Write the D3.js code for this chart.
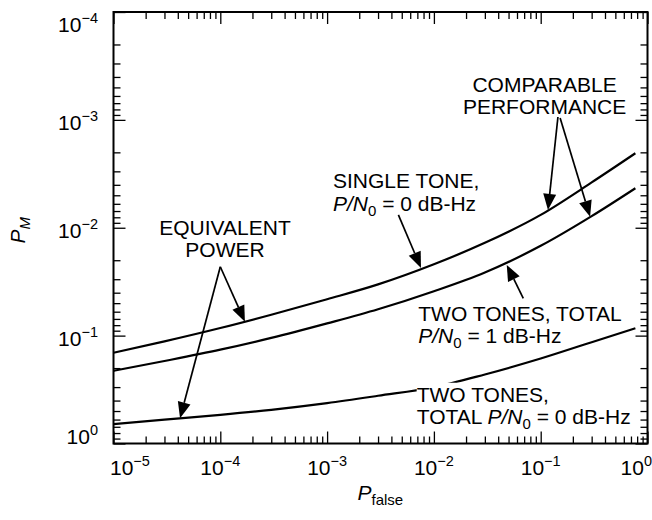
<!DOCTYPE html>
<html>
<head>
<meta charset="utf-8">
<script src="https://cdn.jsdelivr.net/npm/d3@7"></script>
<style>
  body { margin: 0; background: #fff; }
  svg { display: block; }
  text { font-family: "Liberation Sans", Arial, Helvetica, sans-serif; fill: #000; }
</style>
</head>
<body>
<svg id="chart" width="652" height="520"></svg>
<script>
// False-alarm probability grid shared by all three curves
const pFalse = [1e-5, 3e-5, 1e-4, 3e-4, 1e-3, 3e-3, 1e-2, 3e-2, 0.1, 0.3, 0.77];

// Miss probability P_M for each case
const singleTone0dB = [0.144, 0.113, 0.085, 0.064, 0.046, 0.0335, 0.0218, 0.0138, 0.0076, 0.0038, 0.00204];
const twoTones1dB   = [0.212, 0.172, 0.135, 0.105, 0.077, 0.057, 0.0388, 0.026, 0.0147, 0.0078, 0.0043];
const twoTones0dB   = [0.662, 0.601, 0.542, 0.487, 0.422, 0.361, 0.301, 0.229, 0.163, 0.115, 0.0853];

// Decade exponents used for the tick labels
const xTickExps = [-5, -4, -3, -2, -1, 0];
const yTickExps = [-4, -3, -2, -1, 0];

// Callout text, anchored in data coordinates (P_false, P_M)
const pn = v => [{t: "P/N", i: true}, {t: "0", sub: true}, {t: " = " + v + " dB-Hz"}];
const callouts = [
  {at: [0.1087, 5.48e-4], anchor: "middle", lines: [[{t: "COMPARABLE"}], [{t: "PERFORMANCE"}]]},
  {at: [1.135e-3, 4.3e-3], anchor: "start", lines: [[{t: "SINGLE TONE,"}], pn(0)]},
  {at: [1.107e-4, 0.01166], anchor: "middle", lines: [[{t: "EQUIVALENT"}], [{t: "POWER"}]]},
  {at: [7.14e-3, 0.0728], anchor: "start", lines: [[{t: "TWO TONES, TOTAL"}], pn(1)]},
  {at: [6.9e-3, 0.41], anchor: "start", mask: true, lines: [[{t: "TWO TONES,"}], [{t: "TOTAL "}].concat(pn(0))]}
];

// Pointer arrows: tail -> tip, in data coordinates
const arrows = [
  {from: [0.145, 9.4e-4],  to: [0.117, 0.00684]},
  {from: [0.152, 9.6e-4],  to: [0.29, 0.0079]},
  {from: [4.65e-3, 7.6e-3], to: [7.57e-3, 0.0236]},
  {from: [1e-4, 0.023],    to: [1.7e-4, 0.0743]},
  {from: [1e-4, 0.023],    to: [4.2e-5, 0.583]},
  {from: [0.0687, 0.0451], to: [0.0481, 0.0221]}
];

const W = 652, H = 520;
const plot = {left: 113.5, right: 647.5, top: 12, bottom: 443.5};
const svg = d3.select("#chart");

const x = d3.scaleLog().domain([1e-5, 1]).range([plot.left, plot.right]);
const y = d3.scaleLog().domain([1e-4, 1]).range([plot.top, plot.bottom]);

// Curves
const line = d3.line().x(d => x(d[0])).y(d => y(d[1])).curve(d3.curveMonotoneX);
[singleTone0dB, twoTones1dB, twoTones0dB].forEach(series => {
  svg.append("path")
    .datum(pFalse.map((p, i) => [p, series[i]]))
    .attr("d", line)
    .attr("fill", "none")
    .attr("stroke", "#000")
    .attr("stroke-width", 2.2);
});

// Callout labels
const FS = 21, SUB = 15, SUBDY = 5, LH = 22.5;
callouts.forEach(c => {
  const g = svg.append("g");
  const px = x(c.at[0]), py = y(c.at[1]);
  c.lines.forEach((segs, li) => {
    const t = g.append("text")
      .attr("x", px).attr("y", py + li * LH)
      .attr("text-anchor", c.anchor)
      .attr("font-size", FS);
    let shift = 0;
    segs.forEach(s => {
      const target = s.sub ? SUBDY : 0;
      const ts = t.append("tspan").text(s.t).attr("dy", target - shift);
      shift = target;
      if (s.i) ts.attr("font-style", "italic");
      if (s.sub) ts.attr("font-size", SUB);
    });
    if (c.mask && li === 0) {
      const b = t.node().getBBox();
      g.insert("rect", "text")
        .attr("x", b.x).attr("y", b.y)
        .attr("width", b.width).attr("height", b.height)
        .attr("fill", "#fff");
    }
  });
});

// Arrows with solid heads
const HEAD_L = 16, HEAD_W = 6.5;
arrows.forEach(a => {
  const x0 = x(a.from[0]), y0 = y(a.from[1]);
  const x1 = x(a.to[0]), y1 = y(a.to[1]);
  const dx = x1 - x0, dy = y1 - y0, len = Math.hypot(dx, dy);
  const ux = dx / len, uy = dy / len;
  const bx = x1 - ux * HEAD_L, by = y1 - uy * HEAD_L;
  svg.append("line")
    .attr("x1", x0).attr("y1", y0).attr("x2", bx).attr("y2", by)
    .attr("stroke", "#000").attr("stroke-width", 1.7);
  svg.append("polygon")
    .attr("points", [[x1, y1], [bx - uy * HEAD_W, by + ux * HEAD_W], [bx + uy * HEAD_W, by - ux * HEAD_W]].map(p => p.join(",")).join(" "))
    .attr("fill", "#000");
});

// Tick marks on all four sides, pointing inward
const majorX = xTickExps.map(e => Math.pow(10, e));
const majorY = yTickExps.map(e => Math.pow(10, e));
function minors(lo, hi) {
  const v = [];
  for (let e = lo; e < hi; e++) for (let k = 2; k <= 9; k++) v.push(k * Math.pow(10, e));
  return v;
}
const minorX = minors(-5, 0), minorY = minors(-4, 0);

function ticks(axis, transform, values, size) {
  const g = svg.append("g").attr("transform", transform)
    .call(axis.tickValues(values).tickSize(size).tickFormat(""));
  g.select(".domain").remove();
  g.selectAll("line").attr("stroke", "#000").attr("stroke-width", 1.3);
}
[[majorX, -12], [minorX, -7]].forEach(([v, s]) => {
  ticks(d3.axisBottom(x), `translate(0,${plot.bottom})`, v, s);
  ticks(d3.axisTop(x), `translate(0,${plot.top})`, v, s);
});
[[majorY, -12], [minorY, -7]].forEach(([v, s]) => {
  ticks(d3.axisLeft(y), `translate(${plot.left},0)`, v, s);
  ticks(d3.axisRight(y), `translate(${plot.right},0)`, v, s);
});

// Frame
svg.append("rect")
  .attr("x", plot.left).attr("y", plot.top)
  .attr("width", plot.right - plot.left).attr("height", plot.bottom - plot.top)
  .attr("fill", "none").attr("stroke", "#000").attr("stroke-width", 2);

// Power-of-ten tick labels
function powLabel(sel, e) {
  sel.append("tspan").text("10");
  sel.append("tspan").text(e < 0 ? "\u2212" + (-e) : String(e))
    .attr("font-size", 14.5).attr("dy", -9);
}
xTickExps.forEach(e => {
  const t = svg.append("text")
    .attr("x", x(Math.pow(10, e))).attr("y", plot.bottom + 31.5)
    .attr("text-anchor", "middle").attr("font-size", FS);
  powLabel(t, e);
  const b = t.node().getBBox();
  let shift = 0;
  if (b.x < plot.left - 3.5) shift = plot.left - 3.5 - b.x;
  if (b.x + b.width > W) shift = W - (b.x + b.width);
  if (shift) t.attr("transform", `translate(${shift},0)`);
});
yTickExps.forEach(e => {
  const base = Math.min(plot.bottom, Math.max(plot.top + 20, y(Math.pow(10, e)) + 10.5));
  const t = svg.append("text")
    .attr("x", plot.left - 15.5).attr("y", base)
    .attr("text-anchor", "end").attr("font-size", FS);
  powLabel(t, e);
});

// Axis titles
const xt = svg.append("text").attr("x", 357.5).attr("y", 500).attr("font-size", FS);
xt.append("tspan").text("P").attr("font-style", "italic");
xt.append("tspan").text("false").attr("font-size", SUB).attr("dy", 5);

const yt = svg.append("text").attr("transform", "translate(25,243.5) rotate(-90)").attr("font-size", FS);
yt.append("tspan").text("P").attr("font-style", "italic");
yt.append("tspan").text("M").attr("font-style", "italic").attr("font-size", SUB).attr("dy", 5);
</script>
</body>
</html>
